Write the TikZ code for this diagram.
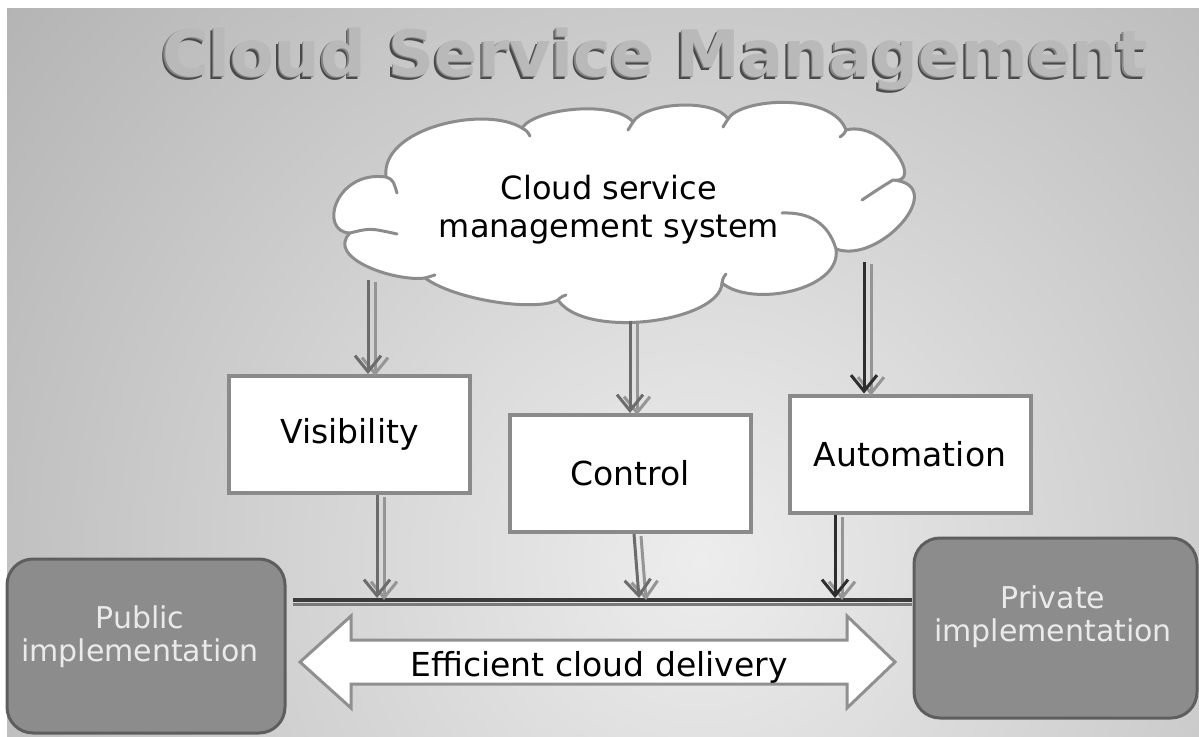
\documentclass[tikz,border=0pt]{standalone}
\usepackage{fontspec}
\setmainfont{DejaVu Sans}
\usetikzlibrary{arrows.meta}
\definecolor{bglight}{HTML}{EDEDED}
\definecolor{bgdark}{HTML}{B0B0B0}
\definecolor{titleface}{HTML}{B9B9B9}
\definecolor{titleshadow}{HTML}{4A4A4A}
\definecolor{titlemid}{HTML}{858585}
\definecolor{cloudline}{HTML}{8C8C8C}
\definecolor{boxline}{HTML}{8A8A8A}
\definecolor{sidefill}{HTML}{8C8C8C}
\definecolor{sideline}{HTML}{5E5E5E}
\definecolor{sidetext}{HTML}{EAEAEA}
\definecolor{arrmid}{HTML}{6C6C6C}
\definecolor{arrshadow}{HTML}{959595}
\definecolor{arrdark}{HTML}{2E2E2E}
\definecolor{busdark}{HTML}{3A3A3A}
\definecolor{busshadow}{HTML}{7A7A7A}
\definecolor{blockline}{HTML}{909090}
\begin{document}
\begin{tikzpicture}[x=1pt,y=-1pt,
  wbox/.style={draw=boxline, line width=4pt, fill=white, minimum width=241pt,
    minimum height=117pt, inner sep=0pt, font=\fontsize{33}{38}\selectfont},
  sidebox/.style={draw=sideline, line width=3pt, fill=sidefill, rounded corners=26pt, inner sep=0pt},
  sidetxt/.style={text=sidetext, align=center, font=\fontsize{30}{33}\selectfont},
  flow/.style={line width=3pt, -{Straight Barb[length=16pt,width=26pt]}},
  flowshadow/.style={flow, draw=arrshadow, transform canvas={shift={(7pt,-2pt)}}},
  titlefont/.style={font=\bfseries\fontsize{64}{64}\selectfont, anchor=base, inner sep=0pt},
  cloudstroke/.style={draw=cloudline, line width=3pt, line cap=round, line join=round},
]
\useasboundingbox (0,0) rectangle (1199,736);
\fill[white] (0,0) rectangle (1199,736);
\begin{scope}
  \clip (7,8) rectangle (1199,736);
  \shade[inner color=bglight, outer color=bgdark] (700,560) circle [radius=950pt];
\end{scope}

% title with embossed look
\node[titlefont, text=titleshadow] (titleS) at (652,79) {Cloud Service Management};
\node[titlefont, text=titlemid] (titleM) at (653.5,77.5) {Cloud Service Management};
\node[titlefont, text=titleface] (title) at (655,76) {Cloud Service Management};

% cloud outline
\path[cloudstroke, fill=white]
  (350,233) .. controls (318,232) and (335,170) .. (386,177)
  .. controls (380,128) and (485,105) .. (522,128)
  .. controls (535,108) and (615,100) .. (633,122)
  .. controls (645,102) and (715,98) .. (728,119)
  .. controls (740,98) and (832,92) .. (846,130)
  .. controls (885,120) and (925,185) .. (893,180)
  .. controls (950,185) and (880,265) .. (836,249)
  .. controls (842,290) and (752,308) .. (722,283)
  .. controls (720,322) and (585,340) .. (558,300)
  .. controls (535,312) and (455,300) .. (425,278)
  .. controls (395,282) and (325,258) .. (350,233) -- cycle;
% inner arcs of the cloud
\draw[cloudstroke] (386,177) .. controls (393,180) .. (397,193);
\draw[cloudstroke] (522,128) .. controls (527,131) .. (530,136);
\draw[cloudstroke] (633,122) .. controls (631,126) .. (628,130);
\draw[cloudstroke] (728,119) .. controls (726,123) .. (723,127);
\draw[cloudstroke] (846,130) .. controls (844,134) .. (840,137);
\draw[cloudstroke] (893,180) .. controls (880,188) .. (862,200);
\draw[cloudstroke] (836,249) .. controls (828,222) and (808,212) .. (782,213);
\draw[cloudstroke] (722,283) .. controls (723,278) .. (726,274);
\draw[cloudstroke] (558,300) .. controls (561,297) .. (566,295);
\draw[cloudstroke] (425,278) .. controls (430,276) .. (435,275);
\draw[cloudstroke] (350,233) .. controls (370,228) .. (397,234);

\node[align=center, font=\fontsize{32}{38}\selectfont] (cloudtxt) at (609,210)
  {Cloud service\\management system};

% boxes
\node[wbox] (vis) at (349.5,434.5) {\raisebox{-7pt}{Visibility}};
\node[wbox] (ctl) at (630,473.5) {\raisebox{-3.5pt}{Control}};
\node[wbox] (aut) at (910,454) {\raisebox{-3pt}{Automation}};

% side boxes
\node[sidebox, minimum width=278pt, minimum height=174pt] (pub) at (146,646) {};
\node[sidetxt] (pubtxt) at (140,637) {Public\\implementation};
\node[sidebox, minimum width=283pt, minimum height=180pt] (priv) at (1055.5,628) {};
\node[sidetxt] (privtxt) at (1053,617) {Private\\implementation};

% start points on the cloud and end points on the bus line
\coordinate (c1) at (368,280);
\coordinate (c2) at (630,321);
\coordinate (c3) at (864,262);
\coordinate (busL) at (293,600);
\coordinate (busR) at (912,600);
\coordinate (t1) at (377,598);
\coordinate (t2) at (639,598);
\coordinate (t3) at (835,598);

% bus line
\draw[busshadow, line width=3pt] ([yshift=-4pt]busL) -- ([yshift=-4pt]busR);
\draw[busdark, line width=4pt] (busL) -- (busR);

% cloud to boxes
\draw[flowshadow] (c1) -- (c1 |- vis.north);
\draw[flow, draw=arrmid] (c1) -- (c1 |- vis.north);
\draw[flowshadow] (c2) -- (c2 |- ctl.north);
\draw[flow, draw=arrmid] (c2) -- (c2 |- ctl.north);
\draw[flowshadow] (c3) -- (c3 |- aut.north);
\draw[flow, draw=arrdark] (c3) -- (c3 |- aut.north);

% boxes to bus
\draw[flowshadow] (t1 |- vis.south) -- (t1);
\draw[flow, draw=arrmid] (t1 |- vis.south) -- (t1);
\draw[flowshadow] ([xshift=4pt]ctl.south) -- (t2);
\draw[flow, draw=arrmid] ([xshift=4pt]ctl.south) -- (t2);
\draw[flowshadow] (t3 |- aut.south) -- (t3);
\draw[flow, draw=arrdark] (t3 |- aut.south) -- (t3);

% double block arrow
\draw[draw=blockline, line width=3pt, fill=white, line join=miter]
  (300,662) -- (351,616) -- (351,640) -- (847,640) -- (847,616) -- (895,662)
  -- (847,708) -- (847,684) -- (351,684) -- (351,708) -- cycle;
\node[font=\fontsize{33}{38}\selectfont] (deliv) at (599,667) {Efficient cloud delivery};
\end{tikzpicture}
\end{document}
